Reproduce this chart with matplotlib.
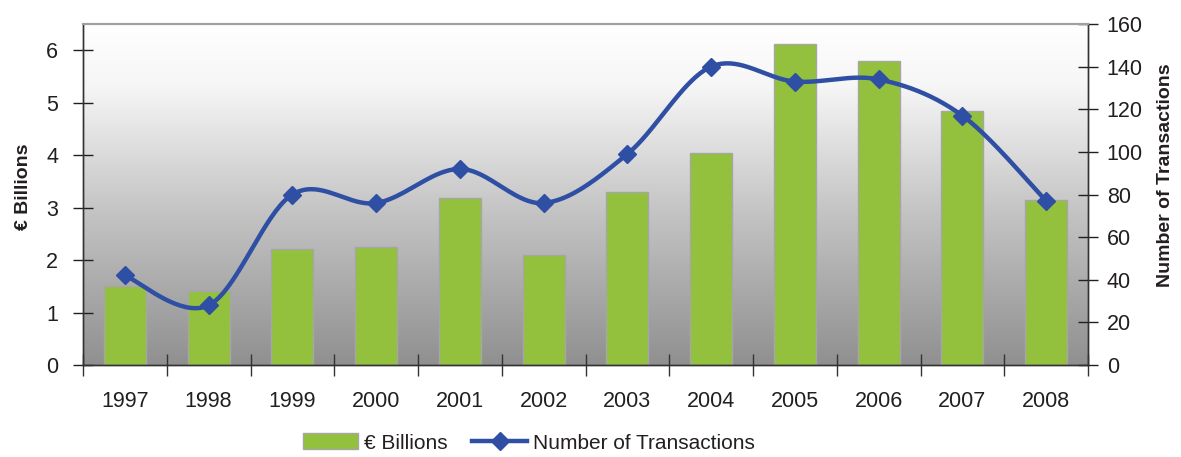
import numpy as np
import matplotlib
matplotlib.use("Agg")
from matplotlib import pyplot as plt
from matplotlib.colors import LinearSegmentedColormap
from matplotlib.lines import Line2D
from matplotlib.patches import Patch

plt.rcParams['font.family'] = ['Liberation Sans', 'DejaVu Sans']

years = ['1997', '1998', '1999', '2000', '2001', '2002',
         '2003', '2004', '2005', '2006', '2007', '2008']
billions = [1.50, 1.41, 2.21, 2.25, 3.18, 2.10, 3.30, 4.04, 6.11, 5.79, 4.84, 3.14]
transactions = [42, 28, 80, 76, 92, 76, 99, 140, 133, 134, 117, 77]

bar_color = '#93c13d'
line_color = '#2e4fa3'
text_color = '#231f20'


def smooth(xs, ys, n=40):
    # Catmull-Rom style smoothing like the spreadsheet "smoothed line"
    xs = np.asarray(xs, float)
    ys = np.asarray(ys, float)
    px = np.concatenate([[xs[0]], xs, [xs[-1]]])
    py = np.concatenate([[ys[0]], ys, [ys[-1]]])
    outx, outy = [], []
    t = np.linspace(0, 1, n)
    for i in range(1, len(px) - 2):
        p0 = np.array([px[i], py[i]])
        p3 = np.array([px[i + 1], py[i + 1]])
        c1 = p0 + (np.array([px[i + 1], py[i + 1]]) - np.array([px[i - 1], py[i - 1]])) / 6
        c2 = p3 - (np.array([px[i + 2], py[i + 2]]) - np.array([px[i], py[i]])) / 6
        b = ((1 - t) ** 3)[:, None] * p0 + (3 * (1 - t) ** 2 * t)[:, None] * c1 \
            + (3 * (1 - t) * t ** 2)[:, None] * c2 + (t ** 3)[:, None] * p3
        outx.extend(b[:, 0])
        outy.extend(b[:, 1])
    return np.array(outx), np.array(outy)


fig = plt.figure(figsize=(11.81, 4.57), dpi=100)
ax = fig.add_axes([83 / 1181, 1 - 365 / 457, (1088 - 83) / 1181, (365 - 24) / 457])
ax2 = ax.twinx()

x = np.arange(len(years))

# gradient background
cmap = LinearSegmentedColormap.from_list('bg', [(0, '#909090'), (0.45, '#c4c4c4'),
                                                (0.82, '#f6f6f6'), (1, '#ffffff')])
grad = np.linspace(0, 1, 256).reshape(-1, 1)
ax.imshow(grad, aspect='auto', cmap=cmap, origin='lower',
          extent=[-0.5, len(years) - 0.5, 0, 6.5], zorder=0)

ax.bar(x, billions, width=0.5, color=bar_color, edgecolor='#a6a6a6', linewidth=1, zorder=2)
ax.set_xlim(-0.5, len(years) - 0.5)
ax.set_ylim(0, 6.5)
ax.set_yticks(range(0, 7))
ax.set_xticks(x)
ax.set_xticklabels(years)
ax.set_xticks(np.arange(-0.5, len(years)), minor=True)
ax.tick_params(axis='x', which='major', length=0, pad=19, labelsize=15.5, colors=text_color)
ax.tick_params(axis='x', which='minor', direction='inout', length=16, width=1, color='#333333')
ax.tick_params(axis='y', direction='inout', length=14, width=1, labelsize=15.5,
               colors=text_color, pad=11)
ax.set_ylabel('€ Billions', fontsize=14, fontweight='bold', color=text_color)
ax.yaxis.set_label_coords(-0.0507, 0.522)

sx, sy = smooth(x, transactions)
ax2.plot(sx, sy, color=line_color, linewidth=3.2, zorder=3, solid_capstyle='round')
ax2.plot(x, transactions, linestyle='none', marker='D', markersize=9,
         color=line_color, zorder=4)
ax2.set_ylim(0, 160)
ax2.set_yticks(range(0, 161, 20))
ax2.tick_params(axis='y', direction='inout', length=14, width=1, labelsize=15.5,
                colors=text_color, pad=6.5)
ax2.set_ylabel('Number of Transactions', fontsize=14, fontweight='bold', color=text_color)
ax2.yaxis.set_label_coords(1.0687, 0.557)

for a in (ax, ax2):
    a.spines['top'].set_color('#a0a0a0')
    a.spines['top'].set_linewidth(1.5)
    for s in ('left', 'right', 'bottom'):
        a.spines[s].set_color('#333333')
        a.spines[s].set_linewidth(1)

handles = [Patch(facecolor=bar_color, edgecolor='#a6a6a6'),
           Line2D([0], [0], color=line_color, linewidth=3.2, marker='D', markersize=9)]
fig.legend(handles, ['€ Billions', 'Number of Transactions'], loc='center',
           bbox_to_anchor=(0.448, 1 - 443 / 457), ncol=2, frameon=False, fontsize=15,
           handlelength=2.6, handleheight=0.8, columnspacing=1.2, handletextpad=0.3,
           labelcolor=text_color)

fig.savefig('out.png', dpi=100)
